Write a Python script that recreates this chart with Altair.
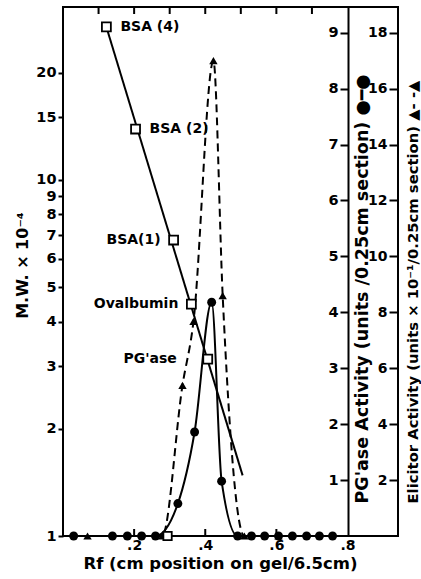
import altair as alt
import pandas as pd

# ---- data ----
# molecular-weight standards (open squares), M.W. x 10^-4 on log scale
std_names = ["BSA (4)", "BSA (2)", "BSA(1)", "Ovalbumin", "PG'ase"]
std_rf = [0.122, 0.204, 0.311, 0.361, 0.407]
std_mw = [26.9, 13.9, 6.78, 4.48, 3.14]
std_group = ["r", "r", "l", "l", "ll"]

# calibration line end points
cal_rf = [0.122, 0.505]
cal_mw = [26.9, 1.48]

# extra open square on the baseline
base_sq_rf = [0.294]
base_sq_mw = [1.0]

# PG'ase activity (units / 0.25 cm section), filled circles, solid line
pg_rf = [0.030, 0.139, 0.181, 0.221, 0.260, 0.323, 0.370, 0.418, 0.446,
         0.491, 0.530, 0.567, 0.606, 0.645, 0.685, 0.721, 0.758]
pg_act = [0, 0, 0, 0, 0, 0.58, 1.86, 4.18, 0.98,
          0, 0, 0, 0, 0, 0, 0, 0]

# Elicitor activity (units x 10^-1 / 0.25 cm section), triangles, dashed line
el_rf = [0.069, 0.279, 0.336, 0.367, 0.423, 0.449, 0.510, 0.606]
el_act = [0, 0, 5.39, 7.68, 17.0, 8.6, 0, 0]

# tick positions
top_ticks = [0.1, 0.2, 0.3, 0.4, 0.5, 0.6, 0.7]
bottom_ticks = [0.2, 0.4, 0.6]
x_labels = [0.2, 0.4, 0.6, 0.8]
mw_ticks = [1, 2, 3, 4, 5, 6, 7, 8, 9, 10, 15, 20]
pg_ticks = [1, 2, 3, 4, 5, 6, 7, 8, 9]
el_ticks = [2, 4, 6, 8, 10, 12, 14, 16, 18]

# ---- tables ----
std_df = pd.DataFrame({"name": std_names, "rf": std_rf, "mw": std_mw, "g": std_group})
cal_df = pd.DataFrame({"rf": cal_rf, "mw": cal_mw})
bsq_df = pd.DataFrame({"rf": base_sq_rf, "mw": base_sq_mw})
pg_df = pd.DataFrame({"rf": pg_rf, "act": pg_act})
el_df = pd.DataFrame({"rf": el_rf, "el": el_act})
tt_df = pd.DataFrame({"rf": top_ticks})
bt_df = pd.DataFrame({"rf": bottom_ticks})

FONT = "DejaVu Sans"
W, H = 335, 529

x_enc = alt.X(
    "rf:Q",
    scale=alt.Scale(domain=[0, 0.942], nice=False, zero=False),
    axis=alt.Axis(
        values=x_labels, labelExpr="substring(format(datum.value, '.1f'), 1)",
        tickSize=0, domain=False, grid=False, labelPadding=2,
        labelFontSize=14, labelFontWeight="bold", labelFont=FONT,
        title="Rf (cm position on gel/6.5cm)", titleFontSize=16.5,
        titleFontWeight="bold", titleFont=FONT, titleX=157, titleAlign="center",
        titlePadding=3,
    ),
)

mw_axis = alt.Axis(
    orient="left", values=mw_ticks, format="d", domain=False, grid=False,
    tickSize=5, tickWidth=2, labelPadding=2, labelFontSize=14.5,
    labelFontWeight="bold", labelFont=FONT,
    title="M.W. × 10⁻⁴", titleFontSize=16, titleFontWeight="bold", titleFont=FONT,
    titleAngle=270, titleX=-41, titleY=258, titleAlign="center", titleBaseline="middle",
)
y_mw = alt.Y("mw:Q", scale=alt.Scale(type="log", domain=[1, 30.6], nice=False), axis=mw_axis)

pg_axis = alt.Axis(
    orient="left", offset=-285, values=pg_ticks, domain=True, domainWidth=2,
    grid=False, tickSize=8, tickWidth=2, labelPadding=2, labelFontSize=14.5,
    labelFontWeight="bold", labelFont=FONT,
    title="PG'ase Activity (units /0.25cm section) ●━●", titleFontSize=17.5,
    titleFontWeight="bold", titleFont=FONT, titleAngle=270, titleX=14, titleY=496,
    titleAlign="left", titleBaseline="middle",
)
y_pg = alt.Y("act:Q", scale=alt.Scale(domain=[0, 9.46], nice=False), axis=pg_axis)

el_axis = alt.Axis(
    orient="left", offset=-335, values=el_ticks, domain=False,
    grid=False, tickSize=9, tickWidth=2, labelPadding=2, labelFontSize=14,
    labelFontWeight="bold", labelFont=FONT,
    title="Elicitor Activity (units × 10⁻¹/0.25cm section) ▲- -▲", titleFontSize=14.8,
    titleFontWeight="bold", titleFont=FONT, titleAngle=270, titleX=15, titleY=496,
    titleAlign="left", titleBaseline="middle",
)
y_el = alt.Y("el:Q", scale=alt.Scale(domain=[0, 18.92], nice=False), axis=el_axis)

# standards group
cal_line = alt.Chart(cal_df).mark_line(color="black", strokeWidth=2).encode(x=x_enc, y=y_mw)
std_pts = alt.Chart(std_df).mark_point(shape="square", filled=True, fill="white",
                                       stroke="black", strokeWidth=1.8, size=80, opacity=1
                                       ).encode(x=x_enc, y=y_mw)
bsq_pts = alt.Chart(bsq_df).mark_point(shape="square", filled=True, fill="white",
                                       stroke="black", strokeWidth=1.8, size=70, opacity=1
                                       ).encode(x=x_enc, y=y_mw)
lab_style = dict(font=FONT, fontSize=14, fontWeight="bold", baseline="middle", color="black")
lab_r = alt.Chart(std_df).transform_filter("datum.g == 'r'").mark_text(
    align="left", dx=14, **lab_style).encode(x=x_enc, y=y_mw, text="name:N")
lab_l = alt.Chart(std_df).transform_filter("datum.g == 'l'").mark_text(
    align="right", dx=-13, **lab_style).encode(x=x_enc, y=y_mw, text="name:N")
lab_ll = alt.Chart(std_df).transform_filter("datum.g == 'll'").mark_text(
    align="right", dx=-31, **lab_style).encode(x=x_enc, y=y_mw, text="name:N")
std_layer = alt.layer(cal_line, std_pts, bsq_pts, lab_r, lab_l, lab_ll)

# PG'ase group
pg_line = alt.Chart(pg_df).mark_line(color="black", strokeWidth=2, interpolate="monotone"
                                     ).encode(x=x_enc, y=y_pg)
pg_pts = alt.Chart(pg_df).mark_circle(color="black", size=80, opacity=1).encode(x=x_enc, y=y_pg)
pg_layer = alt.layer(pg_line, pg_pts)

# Elicitor group
el_line = alt.Chart(el_df).mark_line(color="black", strokeWidth=2, strokeDash=[8, 5],
                                     interpolate="monotone").encode(x=x_enc, y=y_el)
el_pts = alt.Chart(el_df).mark_point(shape="triangle-up", filled=True, color="black",
                                     size=70, opacity=1).encode(x=x_enc, y=y_el)
el_layer = alt.layer(el_line, el_pts)

# inward ticks on top and bottom
tt = alt.Chart(tt_df).mark_rule(color="black", strokeWidth=2).encode(
    x=x_enc, y=alt.value(0), y2=alt.value(7))
bt = alt.Chart(bt_df).mark_rule(color="black", strokeWidth=2).encode(
    x=x_enc, y=alt.value(H - 7), y2=alt.value(H))

chart = alt.layer(el_layer, pg_layer, std_layer, tt, bt).resolve_scale(
    y="independent").resolve_axis(y="independent").properties(
    width=W, height=H,
    autosize=alt.AutoSizeParams(type="none"),
    padding={"left": 63, "top": 7, "right": 23, "bottom": 43},
    background="white",
).configure_view(stroke="black", strokeWidth=2).configure_axis(
    labelColor="black", tickColor="black", domainColor="black", titleColor="black")

chart.save("out.html", embed_options={"renderer": "svg", "actions": False})
